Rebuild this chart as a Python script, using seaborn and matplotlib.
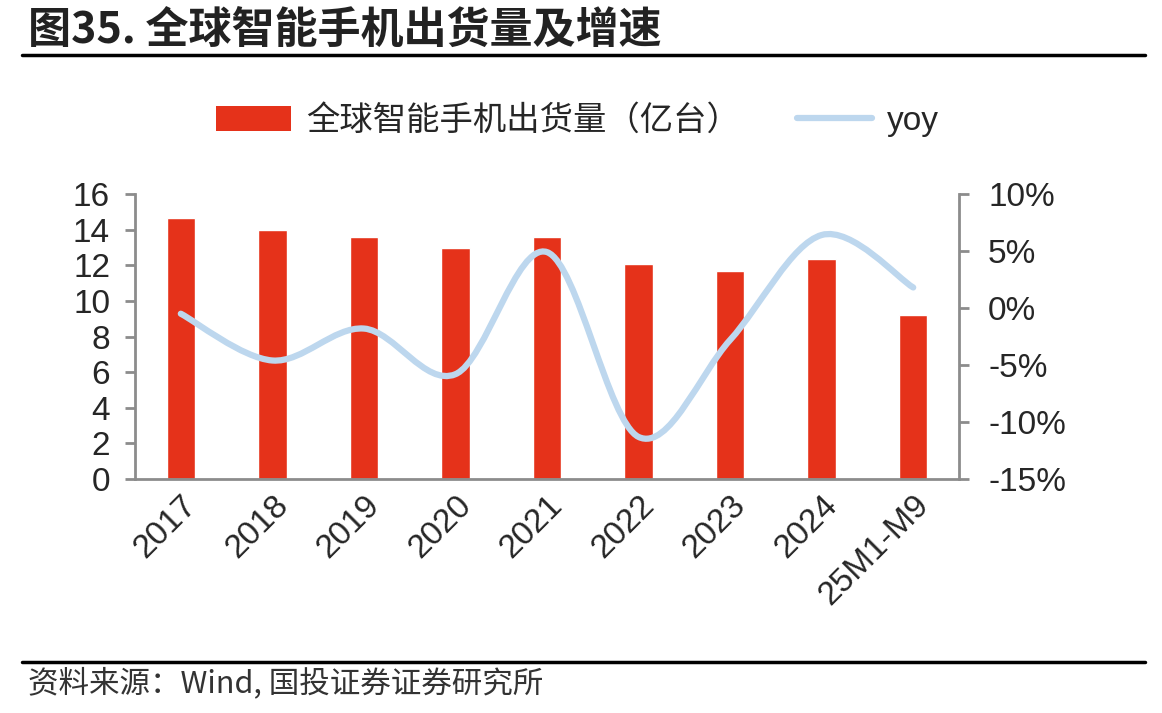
import numpy as np
import pandas as pd
import matplotlib
matplotlib.use('Agg')
import matplotlib.pyplot as plt
import seaborn as sns
from matplotlib.path import Path
from matplotlib.patches import PathPatch, Patch
from matplotlib.lines import Line2D

# Data
years = ['2017', '2018', '2019', '2020', '2021', '2022', '2023', '2024', '25M1-M9']
shipments = [14.65, 14.0, 13.6, 12.95, 13.6, 12.05, 11.7, 12.35, 9.2]   # 亿台
yoy = [-0.5, -4.6, -1.8, -5.8, 4.9, -11.3, -2.8, 6.4, 1.8]              # %

bar_label = '全球智能手机出货量（亿台）'
line_label = 'yoy'
title = '图35. 全球智能手机出货量及增速'
source = '资料来源：Wind, 国投证券证券研究所'

BAR_COLOR = '#E5321A'
LINE_COLOR = '#BDD7EE'
SPINE_COLOR = '#8C8C8C'

sns.set_style('white')
plt.rcParams['font.family'] = ['Liberation Sans', 'Noto Sans CJK SC', 'DejaVu Sans']

df = pd.DataFrame({'year': years, 'shipments': shipments, 'yoy': yoy})

fig = plt.figure(figsize=(11.62, 7.13), dpi=100)
ax = fig.add_axes([0.1162, 0.328, 0.7091, 0.400])

sns.barplot(data=df, x='year', y='shipments', color=BAR_COLOR, width=0.31,
            saturation=1, ax=ax)
ax.set_xlim(-0.5, len(years) - 0.5)
ax.set_ylim(0, 16)
ax.set_yticks(range(0, 17, 2))
ax.set_xlabel('')
ax.set_ylabel('')

# Secondary axis for yoy, smoothed line (Excel style Bezier)
ax2 = ax.twinx()
ax2.set_ylim(-15, 10)
ax2.set_yticks(range(-15, 11, 5))
ax2.set_yticklabels([f'{v}%' for v in range(-15, 11, 5)])

pts = np.column_stack([np.arange(len(yoy)), yoy]).astype(float)
verts = [pts[0]]
codes = [Path.MOVETO]
n = len(pts)
for i in range(n - 1):
    p0 = pts[i - 1] if i > 0 else pts[i]
    p1, p2 = pts[i], pts[i + 1]
    p3 = pts[i + 2] if i + 2 < n else pts[i + 1]
    verts += [p1 + (p2 - p0) / 6, p2 - (p3 - p1) / 6, p2]
    codes += [Path.CURVE4] * 3
ax2.add_patch(PathPatch(Path(verts, codes), fill=False, edgecolor=LINE_COLOR,
                        lw=4.5, capstyle='round', zorder=3))

for a in (ax, ax2):
    for s in a.spines.values():
        s.set_visible(False)
ax.spines['left'].set_visible(True)
ax.spines['bottom'].set_visible(True)
ax2.spines['right'].set_visible(True)
for s in (ax.spines['left'], ax.spines['bottom'], ax2.spines['right']):
    s.set_color(SPINE_COLOR)
    s.set_linewidth(2)

ax.tick_params(axis='y', left=True, length=7, width=2, color=SPINE_COLOR,
               labelsize=24, pad=11)
ax.tick_params(axis='x', bottom=False, labelsize=24, pad=4)
ax2.tick_params(axis='y', right=True, length=7, width=2, color=SPINE_COLOR,
                labelsize=24, pad=14)
for lbl in ax.get_xticklabels():
    lbl.set_rotation(45)
    lbl.set_ha('right')
    lbl.set_rotation_mode('anchor')

# Legend
handles = [Patch(facecolor=BAR_COLOR, edgecolor='none', label=bar_label),
           Line2D([0], [0], color=LINE_COLOR, lw=4.5, solid_capstyle='round', label=line_label)]
fig.legend(handles=handles, loc='center', bbox_to_anchor=(0.497, 0.830), ncol=2,
           frameon=False, handlelength=2.25, handleheight=0.8,
           columnspacing=1.7, handletextpad=0.45,
           prop={'family': ['Liberation Sans', 'Noto Sans CJK SC'], 'size': 24})

# Title, rules and source
fig.text(0.024, 0.957, title, fontsize=31, fontweight='bold', va='center', ha='left',
         family=['Noto Sans CJK SC', 'DejaVu Sans'], color='#222222')
fig.add_artist(Line2D([0.019, 0.985], [0.923, 0.923], color='black', lw=2.5))
fig.add_artist(Line2D([0.019, 0.985], [0.072, 0.072], color='black', lw=2.5))
fig.text(0.024, 0.042, source, fontsize=22, va='center', ha='left', style='italic',
         family=['Noto Sans CJK SC', 'DejaVu Sans'], color='#333333')

fig.savefig('out.png', dpi=100)
